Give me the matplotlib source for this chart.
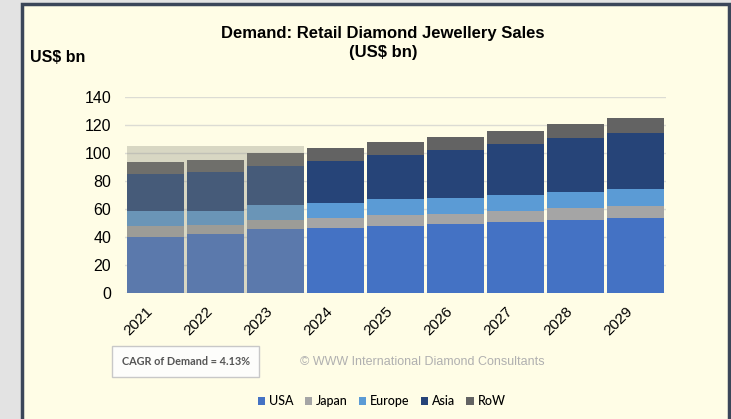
import matplotlib.pyplot as plt
import numpy as np
from matplotlib.patches import Rectangle, Patch

years = ["2021", "2022", "2023", "2024", "2025", "2026", "2027", "2028", "2029"]
usa = [40.0, 42.2, 45.8, 46.7, 48.2, 49.4, 50.8, 52.2, 53.4]
japan = [8.0, 6.4, 6.4, 6.9, 7.6, 7.3, 8.1, 8.8, 9.0]
europe = [10.4, 10.3, 10.7, 10.7, 11.1, 11.2, 11.3, 11.4, 11.9]
asia = [26.8, 27.5, 27.7, 30.1, 31.8, 33.9, 35.9, 38.4, 39.8]
row = [8.5, 8.8, 9.1, 9.3, 9.3, 9.7, 9.5, 10.0, 10.5]

series = ["USA", "Japan", "Europe", "Asia", "RoW"]
colors = ["#4472C4", "#A5A5A5", "#5B9BD5", "#264478", "#636363"]

# actual years (shaded) and the level of the shading box
n_actual = 3
shade_top = 105

plt.rcParams["font.family"] = ["Liberation Sans", "DejaVu Sans"]

fig = plt.figure(figsize=(7.31, 4.19), dpi=100)
fig.patch.set_facecolor("#e3e3e3")

# cream panel with dark frame
fig.patches.append(Rectangle((22 / 731, -0.05), 707 / 731, 1.05 - 4 / 419,
                             transform=fig.transFigure, facecolor="#fffde6",
                             edgecolor="#3b4659", linewidth=2.5, zorder=-10))

ax = fig.add_axes([0.171, 0.300, 0.740, 0.469])
ax.set_facecolor("none")

x = np.arange(len(years))
width = 0.95
bottom = np.zeros(len(years))
for name, vals, c in zip(series, [usa, japan, europe, asia, row], colors):
    ax.bar(x, vals, width, bottom=bottom, color=c, label=name, zorder=2)
    bottom += np.array(vals)

# faded overlay over the actual years
ax.add_patch(Rectangle((x[0] - width / 2, 0), x[n_actual - 1] - x[0] + width, shade_top,
                       facecolor="#8a8a7c", alpha=0.33, edgecolor="none", zorder=3))

ax.set_xlim(-0.5, len(years) - 0.5)
ax.set_ylim(0, 140)
ax.set_yticks(range(0, 141, 20))
ax.grid(axis="y", color="#dcdcd4", linewidth=1, zorder=0)
for s in ax.spines.values():
    s.set_visible(False)
ax.tick_params(axis="y", length=0, pad=10, labelsize=11.5)
ax.tick_params(axis="x", length=0, pad=8, labelsize=11)
ax.set_xticks(x)
ax.set_xticklabels(years, rotation=45, ha="right", rotation_mode="default")

fig.text(0.524, 0.921, "Demand: Retail Diamond Jewellery Sales", ha="center", va="center",
         fontsize=12, fontweight="bold")
fig.text(0.524, 0.874, "(US$ bn)", ha="center", va="center", fontsize=12, fontweight="bold")
fig.text(0.041, 0.862, "US$ bn", ha="left", va="center", fontsize=11.5, fontweight="bold")

fig.text(0.254, 0.137, "CAGR of Demand = 4.13%", ha="center", va="center", fontsize=7.8,
         fontweight="bold", color="#555555", family=["Lato", "DejaVu Sans"],
         bbox=dict(boxstyle="square,pad=0.9", facecolor="#fdfdfb", edgecolor="#c8c8c8", linewidth=1))
fig.text(0.41, 0.137, "\u00a9 WWW International Diamond Consultants", ha="left", va="center",
         fontsize=9, color="#b0b0b0")

handles = [Patch(facecolor=c, label=n) for n, c in zip(series, colors)]
fig.legend(handles=handles, loc="center", bbox_to_anchor=(0.522, 0.042), ncol=5, frameon=False,
           handlelength=0.6, handleheight=0.6, handletextpad=0.3, columnspacing=0.9,
           prop={"family": ["Lato", "DejaVu Sans"], "size": 9, "weight": "medium"})

fig.savefig("out.png", dpi=100, facecolor=fig.get_facecolor())
